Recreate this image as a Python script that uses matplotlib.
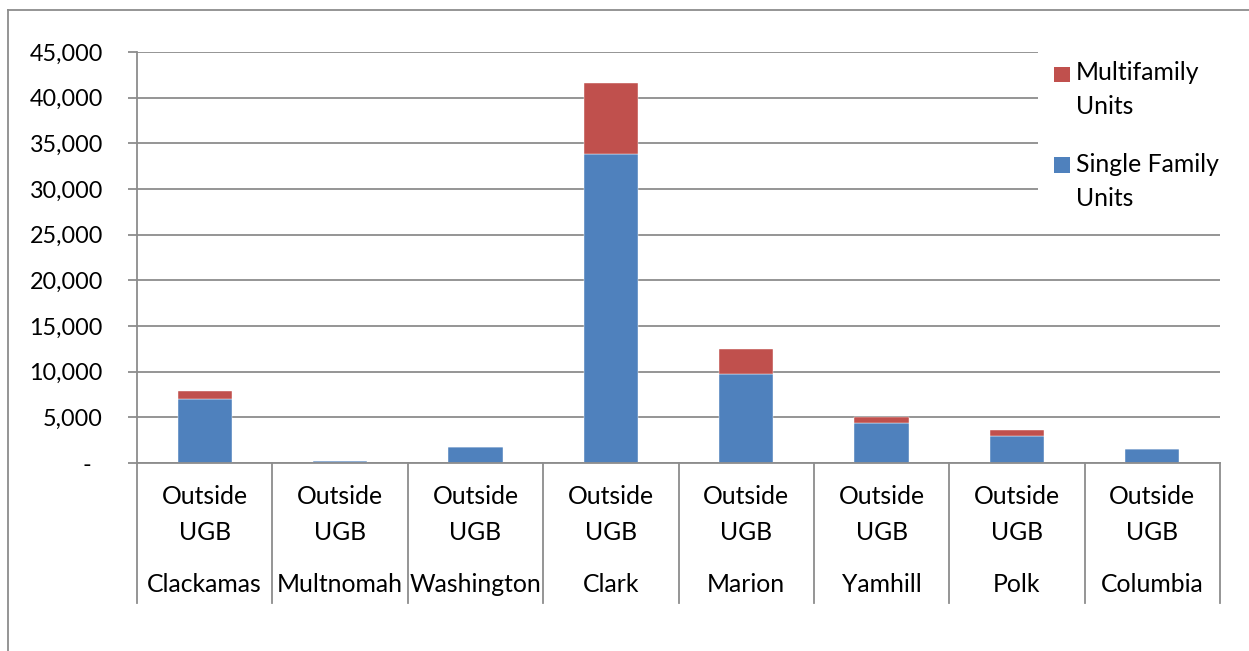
import numpy as np
import matplotlib
matplotlib.use("Agg")
import matplotlib.pyplot as plt
import matplotlib.transforms as mtransforms
from matplotlib.patches import Rectangle
from matplotlib.lines import Line2D
from matplotlib.ticker import FuncFormatter

# ---- data -------------------------------------------------------------
counties = ["Clackamas", "Multnomah", "Washington", "Clark",
            "Marion", "Yamhill", "Polk", "Columbia"]
area_label = ["Outside\nUGB"] * len(counties)
single_family = [7040, 220, 1720, 33870, 9710, 4350, 2990, 1530]
multifamily = [810, 0, 0, 7700, 2740, 650, 620, 0]
series_names = ["Multifamily\nUnits", "Single Family\nUnits"]
y_ticks = list(range(0, 45001, 5000))

BLUE = "#4F81BD"
RED = "#C0504D"
GRID = "#8c8c8c"
FONT = "Lato"
FS_TICK = 16.8
FS = 17.8

W, H = 1249, 651
fig = plt.figure(figsize=(W / 100, H / 100), dpi=100)
fig.patch.set_facecolor("white")

# plot area in pixel terms
L, R, T, B = 137, 1220, 52, 463
ax = fig.add_axes([L / W, (H - B) / H, (R - L) / W, (B - T) / H])


def ax_x(px):
    return (px - L) / (R - L)


def ax_y(py):
    return (B - py) / (B - T)


x = np.arange(len(counties))
ax.bar(x, single_family, width=0.4, color=BLUE, edgecolor="white",
       linewidth=0.3, zorder=2)
ax.bar(x, multifamily, width=0.4, bottom=single_family, color=RED,
       edgecolor="white", linewidth=0.3, zorder=2)

ax.set_xlim(-0.5, len(counties) - 0.5)
ax.set_ylim(0, 45000)
ax.set_yticks(y_ticks)
ax.yaxis.set_major_formatter(
    FuncFormatter(lambda v, p: "-" if v == 0 else f"{int(v):,}"))
ax.yaxis.grid(True, color=GRID, linewidth=1.3)
ax.set_axisbelow(True)

for s in ("top", "right"):
    ax.spines[s].set_visible(False)
for s in ("left", "bottom"):
    ax.spines[s].set_color(GRID)
    ax.spines[s].set_linewidth(1.3)

ax.tick_params(axis="y", length=6.5, width=1.3, color=GRID, pad=18,
               labelsize=FS_TICK)
ax.tick_params(axis="x", length=0, labelbottom=False)
for lab in ax.get_yticklabels():
    lab.set_fontfamily(FONT)

# shift the zero dash a little to the left
zero_lab = ax.yaxis.get_major_ticks()[0].label1
zero_lab.set_transform(zero_lab.get_transform() +
                       mtransforms.ScaledTranslation(-12 / 100, 0, fig.dpi_scale_trans))

# multi-level category axis
xt = ax.get_xaxis_transform()
sep_bottom = ax_y(603)
for b in np.arange(-0.5, len(counties), 1.0):
    ax.plot([b, b], [0, sep_bottom], transform=xt, clip_on=False,
            color=GRID, linewidth=1.3, zorder=3)
for i, (lbl, cty) in enumerate(zip(area_label, counties)):
    top, bottom = lbl.split("\n")
    ax.text(i, ax_y(497), top, transform=xt, ha="center", va="center",
            fontsize=FS, family=FONT)
    ax.text(i, ax_y(532), bottom, transform=xt, ha="center", va="center",
            fontsize=FS, family=FONT)
    ax.text(i, ax_y(585), cty, transform=xt, ha="center", va="center",
            fontsize=FS, family=FONT)

# legend block on a white panel over the gridlines
ax.add_patch(Rectangle((ax_x(1038), ax_y(228)), 1.0 - ax_x(1038) + 0.01,
                       ax_y(45) - ax_y(228), transform=ax.transAxes,
                       facecolor="white", edgecolor="none", zorder=1.5,
                       clip_on=False))
legend_rows = [(RED, series_names[0], 66.5, 73), (BLUE, series_names[1], 157, 164)]
for color, name, sq_top, text_y in legend_rows:
    ax.add_patch(Rectangle((ax_x(1054), ax_y(sq_top + 15.5)),
                           ax_x(1070) - ax_x(1054), ax_y(sq_top) - ax_y(sq_top + 15.5),
                           transform=ax.transAxes, facecolor=color,
                           edgecolor="none", zorder=3, clip_on=False))
    first, second = name.split("\n")
    ax.text(ax_x(1076), ax_y(text_y), first, transform=ax.transAxes,
            ha="left", va="center", fontsize=FS, family=FONT, zorder=3)
    ax.text(ax_x(1076), ax_y(text_y + 34), second, transform=ax.transAxes,
            ha="left", va="center", fontsize=FS, family=FONT, zorder=3)

# outer chart frame
fig.add_artist(Line2D([8 / W, 8 / W], [0, (H - 10) / H], color=GRID,
                      linewidth=1.3, transform=fig.transFigure))
fig.add_artist(Line2D([8 / W, 1.0], [(H - 10) / H, (H - 10) / H], color=GRID,
                      linewidth=1.3, transform=fig.transFigure))

fig.savefig("out.png", dpi=100)
